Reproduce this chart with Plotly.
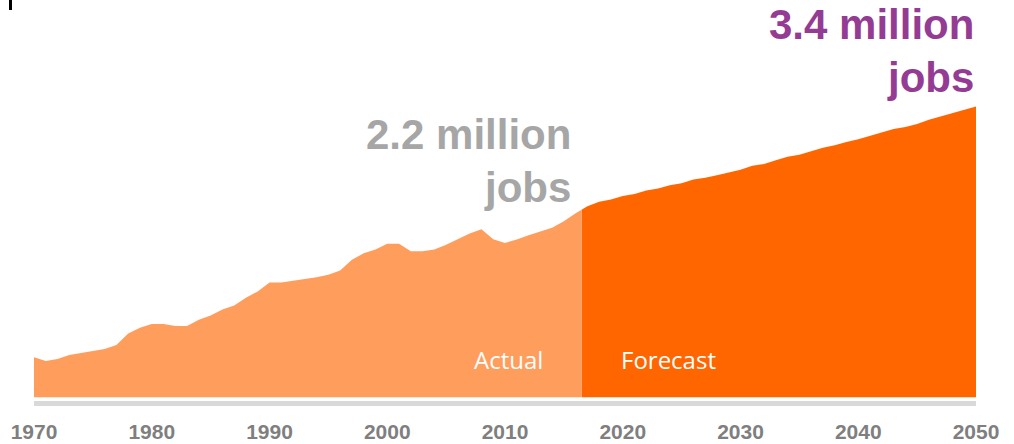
import plotly.graph_objects as go

# ---- data (millions of jobs) ----
actual_years = list(range(1970, 2017))
actual_jobs = [0.468, 0.423, 0.446, 0.495, 0.517, 0.540, 0.566, 0.612, 0.745, 0.813,
               0.857, 0.857, 0.835, 0.835, 0.906, 0.956, 1.028, 1.073, 1.166, 1.239,
               1.342, 1.342, 1.364, 1.386, 1.404, 1.435, 1.484, 1.609, 1.685, 1.730,
               1.798, 1.798, 1.708, 1.708, 1.730, 1.784, 1.851, 1.918, 1.967, 1.851,
               1.807, 1.847, 1.896, 1.937, 1.985, 2.062, 2.155]
forecast_years = list(range(2017, 2051))
forecast_jobs = [2.235, 2.290, 2.315, 2.355, 2.380, 2.420, 2.445, 2.483, 2.505, 2.550,
                 2.570, 2.600, 2.628, 2.665, 2.710, 2.730, 2.775, 2.815, 2.838, 2.880,
                 2.920, 2.950, 2.990, 3.020, 3.060, 3.100, 3.140, 3.165, 3.200, 3.250,
                 3.290, 3.325, 3.365, 3.405]
split_year = 2016.5
tick_years = [1970, 1980, 1990, 2000, 2010, 2020, 2030, 2040, 2050]
label_actual_total = ["2.2 million", "jobs"]
label_forecast_total = ["3.4 million", "jobs"]
period_labels = ["Actual", "Forecast"]

LIGHT = "#FF9D5C"
DARK = "#FF6600"

# geometry
W, H = 1014, 444
ML, MR, MT, MB = 34, 38, 0, 42.5
PW, PH = W - ML - MR, H - MT - MB
x0, x1 = tick_years[0], tick_years[-1]


def px(xp):
    return (xp - ML) / PW


def py(yp):
    return (H - MB - yp) / PH


fig = go.Figure()

# forecast (dark) area, starting at the last actual point
fig.add_trace(go.Scatter(
    x=[actual_years[-1]] + forecast_years,
    y=[actual_jobs[-1]] + forecast_jobs,
    mode="lines", line=dict(width=0, color=DARK),
    fill="tozeroy", fillcolor=DARK, hoverinfo="skip", showlegend=False,
    xaxis="x", yaxis="y"))

# actual (light) area, drawn on a sub-axis clipped at the split year
fig.add_trace(go.Scatter(
    x=actual_years + [forecast_years[0]],
    y=actual_jobs + [forecast_jobs[0]],
    mode="lines", line=dict(width=0, color=LIGHT),
    fill="tozeroy", fillcolor=LIGHT, hoverinfo="skip", showlegend=False,
    xaxis="x2", yaxis="y"))

ann = []
big_font = dict(family="Liberation Sans, Arial, sans-serif", size=42, weight="bold")
for i, t in enumerate(label_forecast_total):
    ann.append(dict(x=px(976), y=py(25 + 53 * i), xref="paper", yref="paper",
                    text=t, showarrow=False, xanchor="right", yanchor="middle",
                    font=dict(**big_font, color="#943C93")))
for i, t in enumerate(label_actual_total):
    ann.append(dict(x=px(573), y=py(135 + 53 * i), xref="paper", yref="paper",
                    text=t, showarrow=False, xanchor="right", yanchor="middle",
                    font=dict(**big_font, color="#A6A6A6")))
for t, cx in zip(period_labels, [508, 668]):
    ann.append(dict(x=px(cx), y=py(360), xref="paper", yref="paper",
                    text=t, showarrow=False, xanchor="center", yanchor="middle",
                    font=dict(family="Open Sans, sans-serif", size=24, color="white")))

fig.update_layout(
    width=W, height=H,
    margin=dict(l=ML, r=MR, t=MT, b=MB, pad=0, autoexpand=False),
    paper_bgcolor="white", plot_bgcolor="white",
    showlegend=False,
    xaxis=dict(range=[x0, x1], tickvals=tick_years, showgrid=False, zeroline=False,
               showline=True, linecolor="#D9D9D9", linewidth=5, ticks="",
               ticklabelstandoff=8, automargin=False,
               tickfont=dict(family="Liberation Sans Narrow, Arial Narrow, Liberation Sans, sans-serif",
                             size=21, weight="bold", color="#7F7F7F"),
               fixedrange=True),
    xaxis2=dict(range=[x0, split_year], domain=[0, (split_year - x0) / (x1 - x0)],
                anchor="y", visible=False, fixedrange=True),
    yaxis=dict(range=[-0.0444, -0.0444 + PH / 85.5], visible=False, fixedrange=True,
               automargin=False),
    annotations=ann,
    shapes=[dict(type="line", xref="paper", yref="paper",
                 x0=px(10.5), x1=px(10.5), y0=py(0), y1=py(10),
                 line=dict(color="black", width=3))],
)

fig.write_html("out.html", config={"displayModeBar": False},
               post_script="document.body.style.margin='0px';")
